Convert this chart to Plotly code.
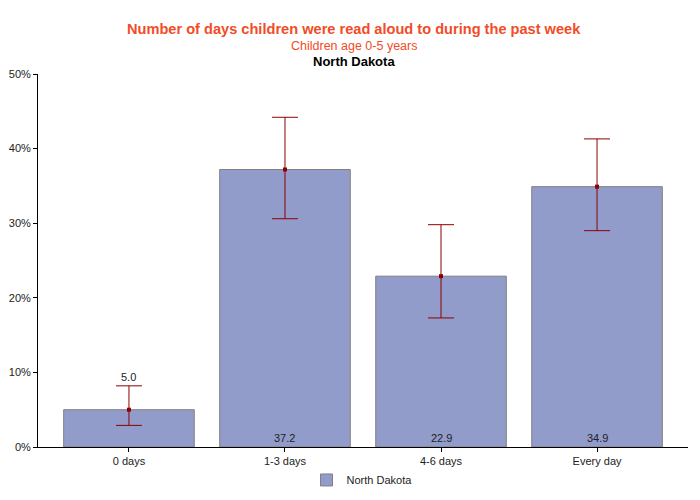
import plotly.graph_objects as go

categories = ["0 days", "1-3 days", "4-6 days", "Every day"]
values = [5.0, 37.2, 22.9, 34.9]
upper = [8.2, 44.2, 29.8, 41.3]
lower = [2.9, 30.6, 17.3, 29.0]
labels = ["5.0", "37.2", "22.9", "34.9"]
label_outside = [True, False, False, False]
series_name = "North Dakota"

FONT = "Liberation Sans, Arial, sans-serif"
ERR = "#8B0000"
OFF = 8  # page body margin offset

L, R, T, B = 38 - OFF, 700 - (688 - OFF), 73.5 - OFF, 500 - (447 - OFF)
PW, PH = 700 - L - R, 500 - T - B

fig = go.Figure()
fig.add_trace(go.Bar(
    x=categories, y=values, name=series_name,
    marker=dict(color="#929CCB", line=dict(color="#808080", width=1)),
    hoverinfo="skip",
))
fig.add_trace(go.Scatter(
    x=categories, y=values, mode="markers", showlegend=False,
    marker=dict(color=ERR, size=4, symbol="square"),
    error_y=dict(type="data", symmetric=False,
                 array=[u - v for u, v in zip(upper, values)],
                 arrayminus=[v - l for v, l in zip(values, lower)],
                 color=ERR, thickness=1, width=13),
))

annotations = []
for c, v, u, t, out in zip(categories, values, upper, labels, label_outside):
    annotations.append(dict(x=c, y=(u if out else 0), text=t, showarrow=False,
                            yanchor="bottom", yshift=1,
                            font=dict(family=FONT, size=11, color="#222")))

titles = [
    ("<b>Number of days children were read aloud to during the past week</b>", 28, 14.6, "#F24C27"),
    ("Children age 0-5 years", 45, 12.5, "#F24C27"),
    ("<b>North Dakota</b>", 61, 13, "#000000"),
]
for text, ypix, size, color in titles:
    annotations.append(dict(
        xref="paper", yref="paper", x=(354 - OFF - L) / PW, y=1 + (T - (ypix - OFF)) / PH,
        text=text, showarrow=False, xanchor="center", yanchor="middle",
        font=dict(family=FONT, size=size, color=color),
    ))

fig.update_layout(
    width=700, height=500,
    margin=dict(l=L, r=R, t=T, b=B, autoexpand=False),
    paper_bgcolor="white", plot_bgcolor="white",
    bargap=0.163,
    font=dict(family=FONT, size=11, color="#222"),
    showlegend=True,
    legend=dict(orientation="h", x=(362 - OFF - L) / PW, xanchor="center",
                y=-((480 - OFF) - (T + PH)) / PH, yanchor="middle",
                font=dict(family=FONT, size=11, color="#222")),
    xaxis=dict(range=[-0.583, 3.583], showline=True, linecolor="black", linewidth=1,
               automargin=False,
               ticks="outside", ticklen=4, tickcolor="black", showgrid=False,
               tickfont=dict(family=FONT, size=11, color="#222")),
    yaxis=dict(range=[0, 50], dtick=10, ticksuffix="%", showline=True, linecolor="black",
               automargin=False,
               linewidth=1, ticks="outside", ticklen=4, tickcolor="black", showgrid=False,
               zeroline=False, tickfont=dict(family=FONT, size=11, color="#222")),
    annotations=annotations,
)

fig.write_html("out.html")
